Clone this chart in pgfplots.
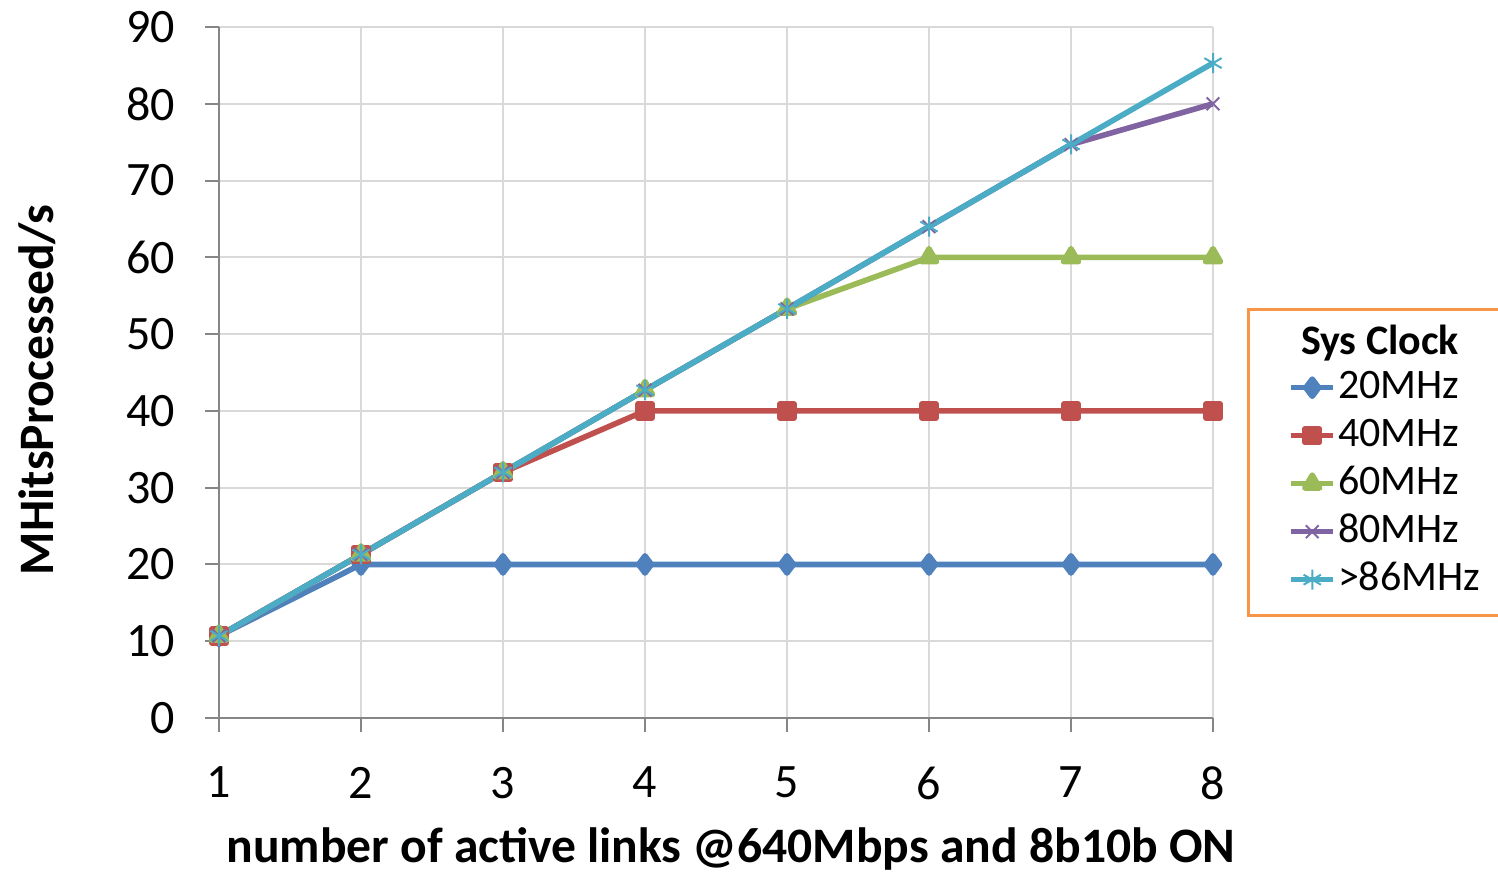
\documentclass[border=0pt]{standalone}
\usepackage{fontspec}
\setmainfont{Carlito}
\usepackage{pgfplots}
\pgfplotsset{compat=1.18}

\definecolor{cA}{HTML}{4F81BD}
\definecolor{cB}{HTML}{C0504D}
\definecolor{cC}{HTML}{9BBB59}
\definecolor{cD}{HTML}{8064A2}
\definecolor{cE}{HTML}{4BACC6}
\definecolor{gridgray}{HTML}{D9D9D9}
\definecolor{axisgray}{HTML}{868686}
\definecolor{legorange}{HTML}{F79646}

\begin{document}
\begin{tikzpicture}[x=1pt,y=1pt]
\useasboundingbox (0,0) rectangle (749,437);
\begin{axis}[
  at={(109.5pt,78pt)}, anchor=south west,
  scale only axis, width=497pt, height=345.5pt,
  xmin=1, xmax=8, ymin=0, ymax=90,
  xtick={1,2,...,8}, ytick={0,10,...,90},
  axis x line*=bottom, axis y line*=left,
  grid=major, grid style={color=gridgray, line width=1pt},
  axis line style={color=axisgray, line width=1pt},
  tick style={color=axisgray, line width=1pt},
  tick align=outside, major tick length=7pt,
  /pgf/number format/assume math mode=true,
  ticklabel style={font=\fontsize{24}{28}\selectfont, text=black},
  yticklabel style={xshift=-11.5pt},
  xticklabel style={yshift=-14pt},
  xlabel={\textbf{number of active links @640Mbps and 8b10b ON}},
  ylabel={\textbf{MHitsProcessed/s}},
  label style={font=\fontsize{24.8}{28}\selectfont},
  xlabel style={at={(axis description cs:0.515,-0.19)}, anchor=center},
  ylabel style={at={(axis description cs:-0.183,0.475)}, anchor=center},
  every axis plot/.append style={line width=2.8pt, line join=round},
  legend cell align=left,
  legend image code/.code={%
    \draw[mark repeat=2, mark phase=2, #1]
      plot coordinates {(0pt,0pt) (10.5pt,0pt) (21pt,0pt)};},
  legend style={draw=none, fill=none,
    at={(axis description cs:1.0755,0.509)}, anchor=north west,
    font=\fontsize{21}{24}\selectfont,
    inner sep=0pt, row sep=3pt,
    nodes={inner sep=1pt, text height=15pt, text depth=4pt}},
]
\addplot[color=cA, mark=diamond*, mark size=4.3pt]
  coordinates {(1,10.7) (2,20) (3,20) (4,20) (5,20) (6,20) (7,20) (8,20)};
\addlegendentry{20MHz}
\addplot[color=cB, mark=square*, mark size=3.5pt]
  coordinates {(1,10.7) (2,21.3) (3,32) (4,40) (5,40) (6,40) (7,40) (8,40)};
\addlegendentry{40MHz}
\addplot[color=cC, mark=triangle*, mark size=4.3pt]
  coordinates {(1,10.7) (2,21.3) (3,32) (4,42.7) (5,53.3) (6,60) (7,60) (8,60)};
\addlegendentry{60MHz}
\addplot[color=cD, mark=x, mark size=4.5pt, mark options={line width=1pt}]
  coordinates {(1,10.7) (2,21.3) (3,32) (4,42.7) (5,53.3) (6,64) (7,74.7) (8,80)};
\addlegendentry{80MHz}
\addplot[color=cE, mark=asterisk, mark size=5pt, mark options={line width=1pt}]
  coordinates {(1,10.7) (2,21.3) (3,32) (4,42.7) (5,53.3) (6,64) (7,74.7) (8,85.3)};
\addlegendentry{>86MHz}
\end{axis}
% legend frame and title
\draw[legorange, line width=1.5pt] (624,129.5) rectangle (770,282);
\node[font=\fontsize{21}{24}\selectfont\bfseries] at (690,265.5) {Sys Clock};
\end{tikzpicture}
\end{document}
